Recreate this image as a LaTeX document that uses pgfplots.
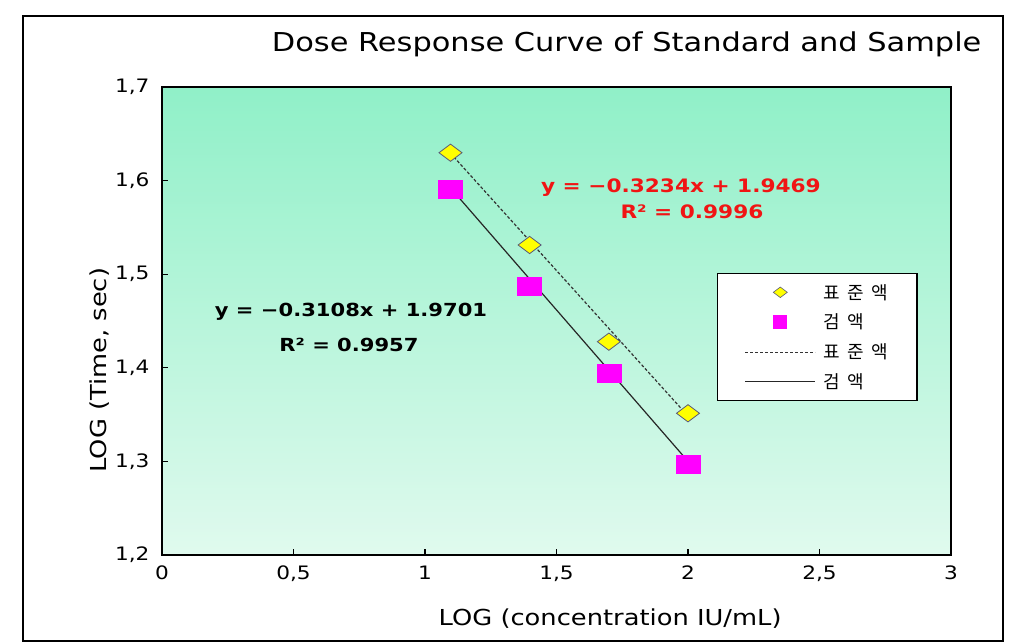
\documentclass[border=0pt]{standalone}
\usepackage{fontspec}
\setmainfont{DejaVu Sans}[FakeStretch=1.17]
\newfontfamily\kr{Noto Sans CJK KR}[LetterSpace=40]
\usepackage{pgfplots}
\pgfplotsset{compat=1.18}
\definecolor{bgtop}{RGB}{144,240,200}
\definecolor{bgbot}{RGB}{224,250,238}
\definecolor{eqred}{RGB}{240,20,20}
\definecolor{mag}{RGB}{255,0,255}
\definecolor{yel}{RGB}{255,255,0}
\definecolor{dmedge}{RGB}{90,90,120}
\begin{document}
\begin{tikzpicture}
\useasboundingbox (-162pt,-88pt) rectangle (857pt,555pt);
\fill[white] (-162pt,-88pt) rectangle (857pt,555pt);
\draw[line width=1.3pt] (-139pt,-86pt) rectangle (841pt,539pt);
\begin{axis}[
  at={(0pt,0pt)}, anchor=south west,
  scale only axis, width=789pt, height=468pt,
  xmin=0, xmax=3, ymin=1.2, ymax=1.7,
  xtick={0,0.5,1,1.5,2,2.5,3},
  ytick={1.2,1.3,1.4,1.5,1.6,1.7},
  tick pos=left, tick align=inside,
  major tick length=6pt,
  tick style={line width=1.1pt, black},
  axis line style={line width=1.4pt},
  axis background/.style={shade, top color=bgtop, bottom color=bgbot},
  /pgf/number format/assume math mode=true,
  /pgf/number format/use comma,
  /pgf/number format/fixed,
  ticklabel style={font=\fontsize{18.5}{20}\selectfont},
  yticklabel style={xshift=-9pt},
  xticklabel style={yshift=-7pt},
  title={Dose Response Curve of Standard and Sample},
  title style={at={(axis description cs:1.043,1.064)}, anchor=base east, font=\fontsize{26}{30}\selectfont},
  xlabel={LOG (concentration IU/mL)},
  xlabel style={at={(axis description cs:0.568,-0.1496)}, anchor=base, font=\fontsize{22}{26}\selectfont},
  ylabel={LOG (Time, sec)},
  ylabel style={at={(axis description cs:-0.0786,0.395)}, anchor=center, font=\fontsize{22}{26}\selectfont},
  legend style={at={(axis description cs:0.7034,0.6026)}, anchor=north west,
    draw=black, line width=1.3pt, fill=white,
    font=\kr\fontsize{18}{20}\selectfont,
    inner xsep=27pt, inner ysep=8.5pt, row sep=9.5pt},
  legend cell align=left,
]
\addplot[only marks, mark=diamond*, mark size=11.5pt,
  mark options={rotate=90, fill=yel, draw=dmedge, line width=0.8pt},
  legend image code/.code={\path (0pt,0pt) (76pt,0pt);\draw[mark=diamond*, mark size=7pt, mark options={rotate=90, fill=yel, draw=dmedge, line width=0.6pt}] plot coordinates {(35pt,0pt)};}]
  coordinates {(1.0969,1.6298)(1.3979,1.5312)(1.6990,1.4279)(2.0,1.3514)};
\addlegendentry{표준액}
\addplot[only marks, mark=square*, mark size=9pt,
  mark options={xscale=1.33, fill=mag, draw=mag},
  legend image code/.code={\path (0pt,0pt) (76pt,0pt);\draw[mark=square*, mark size=6.3pt, mark options={fill=mag, draw=mag}] plot coordinates {(35pt,0pt)};}]
  coordinates {(1.0969,1.5907)(1.3979,1.4867)(1.6990,1.3941)(2.0,1.2969)};
\addlegendentry{검액}
\addplot[mark=none, densely dashed, line width=1.2pt, color=black!80,
  legend image code/.code={\path (0pt,0pt) (76pt,0pt);\draw[densely dashed, line width=1pt, black!80] (0pt,0pt) -- (70pt,0pt);}]
  coordinates {(1.0969,1.6292)(2.0,1.3485)};
\addlegendentry{표준액}
\addplot[mark=none, solid, line width=1.2pt, color=black!85,
  legend image code/.code={\path (0pt,0pt) (76pt,0pt);\draw[solid, line width=1pt, black!85] (0pt,0pt) -- (70pt,0pt);}]
  coordinates {(1.0969,1.5922)(2.0,1.3001)};
\addlegendentry{검액}
\node[anchor=base, font=\bfseries\fontsize{18}{20}\selectfont] at (axis cs:0.7186,1.4543) {y = −0.3108x + 1.9701};
\node[anchor=base, font=\bfseries\fontsize{18}{20}\selectfont] at (axis cs:0.711,1.4169) {R² = 0.9957};
\node[anchor=base, text=eqred, font=\bfseries\fontsize{18.5}{20}\selectfont] at (axis cs:1.973,1.5868) {y = −0.3234x + 1.9469};
\node[anchor=base, text=eqred, font=\bfseries\fontsize{18.5}{20}\selectfont] at (axis cs:2.015,1.5600) {R² = 0.9996};
\end{axis}
\end{tikzpicture}
\end{document}
